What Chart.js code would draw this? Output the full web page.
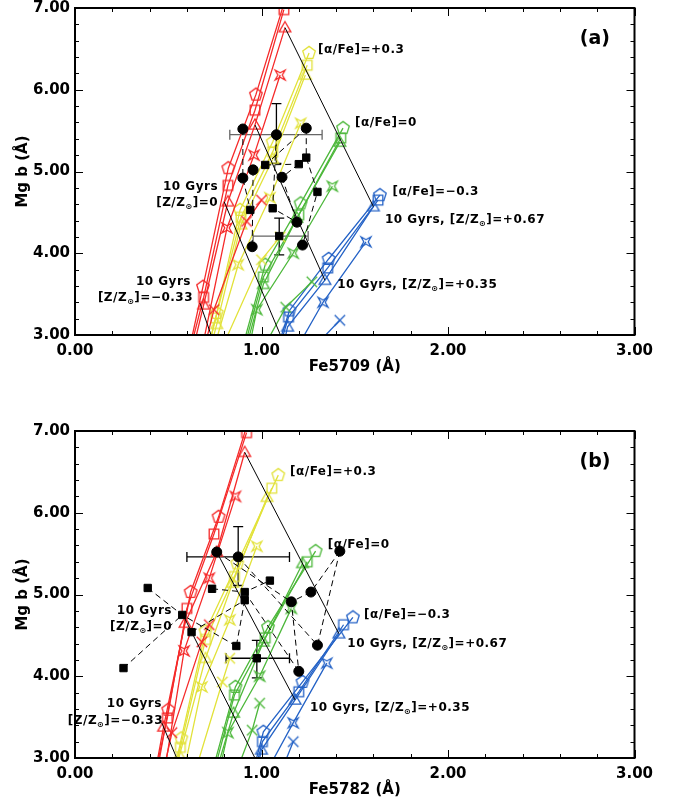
<!DOCTYPE html>
<html><head><meta charset="utf-8">
<script src="https://cdn.jsdelivr.net/npm/chart.js"></script>
<style>
html,body{margin:0;padding:0;background:#fff;width:677px;height:807px;overflow:hidden}
.wrap{position:absolute;left:0;width:677px}
#wa{top:0;height:400px}
#wb{top:400px;height:407px}
canvas{display:block}
</style></head><body>
<div class="wrap" id="wa"><canvas id="ca" width="677" height="400"></canvas></div>
<div class="wrap" id="wb"><canvas id="cb" width="677" height="407"></canvas></div>
<script>
// ---------- axis ticks ----------
const xTickValues = [0, 1, 2, 3];
const yTickValues = [3, 4, 5, 6, 7];

// ---------- panel (a): Mg b vs Fe5709 model grids (points at increasing [Z/H]) ----------
const a_red_pent   = [[0.62,2.90],[0.686,3.59],[0.822,5.04],[0.97,5.94],[1.14,7.20]];
const a_red_sq     = [[0.615,2.80],[0.69,3.46],[0.82,4.83],[0.965,5.75],[1.12,6.98]];
const a_red_tri    = [[0.63,2.80],[0.69,3.37],[0.82,4.63],[0.965,5.57],[1.126,6.76]];
const a_red_star   = [[0.66,2.60],[0.815,4.31],[0.96,5.20],[1.10,6.18]];
const a_red_x      = [[0.70,2.90],[0.745,3.31],[0.92,4.39],[1.00,4.65]];
const a_yel_pent   = [[0.70,2.70],[0.76,3.27],[0.885,4.53],[1.06,5.36],[1.255,6.45]];
const a_yel_sq     = [[0.70,2.70],[0.755,3.21],[0.89,4.44],[1.06,5.24],[1.245,6.30]];
const a_yel_tri    = [[0.71,2.70],[0.76,3.13],[0.89,4.35],[1.06,5.15],[1.235,6.18]];
const a_yel_star   = [[0.74,2.80],[0.875,3.86],[1.045,4.68],[1.21,5.59]];
const a_yel_x      = [[0.78,2.80],[1.00,3.92],[1.10,4.20]];
const a_grn_pent   = [[0.88,2.70],[1.02,3.86],[1.21,4.61],[1.437,5.53]];
const a_grn_sq     = [[0.89,2.70],[1.01,3.71],[1.20,4.47],[1.425,5.41]];
const a_grn_tri    = [[0.90,2.70],[1.01,3.62],[1.19,4.43],[1.42,5.36]];
const a_grn_star   = [[0.93,2.80],[0.975,3.31],[1.17,4.00],[1.38,4.82]];
const a_grn_x      = [[1.00,2.80],[1.13,3.34],[1.27,3.65]];
const a_blu_pent   = [[1.08,2.80],[1.15,3.30],[1.36,3.93],[1.635,4.71]];
const a_blu_sq     = [[1.09,2.80],[1.145,3.22],[1.355,3.82],[1.625,4.65]];
const a_blu_tri    = [[1.11,2.80],[1.14,3.10],[1.34,3.67],[1.60,4.57]];
const a_blu_star   = [[1.18,2.80],[1.33,3.40],[1.56,4.14]];
const a_blu_x      = [[1.26,2.80],[1.42,3.18]];
// 10 Gyr constant-metallicity lines ([Z/Z]=+0.67, +0.35, 0, -0.33)
const a_iso = [[[1.126,6.76],[1.60,4.57]], [[0.965,5.57],[1.34,3.67]], [[0.80,4.63],[1.12,2.90]], [[0.67,3.39],[0.745,2.90]]];
// observed data
const a_circles = [[0.90,5.52],[1.08,5.45],[1.24,5.53],[0.955,5.02],[0.90,4.92],[1.11,4.93],[0.95,4.08],[1.22,4.10],[1.19,4.38]];
const a_squares = [[1.24,5.17],[1.20,5.09],[1.02,5.08],[1.30,4.75],[1.06,4.55],[1.095,4.21],[0.94,4.53]];
const a_links = [
  [[1.24,5.53],[1.02,5.08]],
  [[1.24,5.53],[1.24,5.17],[1.30,4.75],[1.22,4.10]],
  [[1.20,5.09],[1.11,4.93]],
  [[1.02,5.08],[1.20,5.09]],
  [[0.90,5.52],[0.90,4.92],[0.94,4.53]],
  [[0.955,5.02],[0.95,4.08]],
  [[1.11,4.93],[1.19,4.38]],
  [[1.08,5.45],[1.06,4.55],[1.19,4.38]]
];
const a_errorBars = [
  {x:1.08, y:5.45, xlo:0.83, xhi:1.325, ylo:5.10, yhi:5.83},
  {x:1.095, y:4.21, xlo:0.955, xhi:1.25, ylo:3.98, yhi:4.43}
];
const a_labels = [
  ['[α/Fe]=+0.3', 1.303, 6.49, 'left'],
  ['[α/Fe]=0', 1.501, 5.59, 'left'],
  ['[α/Fe]=−0.3', 1.703, 4.75, 'left'],
  ['10 Gyrs, [Z/Z_⊙]=+0.67', 1.662, 4.41, 'left'],
  ['10 Gyrs, [Z/Z_⊙]=+0.35', 1.406, 3.61, 'left'],
  ['10 Gyrs', 0.767, 4.81, 'right'],
  ['[Z/Z_⊙]=0', 0.767, 4.615, 'right'],
  ['10 Gyrs', 0.622, 3.65, 'right'],
  ['[Z/Z_⊙]=−0.33', 0.633, 3.45, 'right']
];

// ---------- panel (b): Mg b vs Fe5782 ----------
const b_red_pent   = [[0.43,2.70],[0.50,3.59],[0.62,5.03],[0.77,5.95],[0.94,7.20]];
const b_red_sq     = [[0.42,2.70],[0.495,3.49],[0.60,4.83],[0.745,5.74],[0.92,6.98]];
const b_red_tri    = [[0.42,2.70],[0.475,3.38],[0.59,4.65],[0.76,5.52],[0.91,6.74]];
const b_red_star   = [[0.47,2.70],[0.585,4.31],[0.72,5.20],[0.86,6.20]];
const b_red_x      = [[0.47,2.80],[0.52,3.31],[0.68,4.42],[0.72,4.63]];
const b_yel_pent   = [[0.52,2.70],[0.57,3.24],[0.70,4.55],[0.87,5.38],[1.09,6.46]];
const b_yel_sq     = [[0.52,2.70],[0.565,3.13],[0.70,4.45],[0.855,5.22],[1.055,6.30]];
const b_yel_tri    = [[0.53,2.70],[0.56,3.03],[0.70,4.22],[0.845,5.14],[1.03,6.19]];
const b_yel_star   = [[0.58,2.80],[0.68,3.87],[0.83,4.69],[0.975,5.59]];
const b_yel_x      = [[0.64,2.80],[0.79,3.93],[0.83,4.22]];
const b_grn_pent   = [[0.72,2.70],[0.86,3.87],[1.035,4.60],[1.29,5.53]];
const b_grn_sq     = [[0.73,2.70],[0.855,3.77],[1.02,4.47],[1.245,5.40]];
const b_grn_tri    = [[0.74,2.70],[0.85,3.55],[1.01,4.42],[1.22,5.38]];
const b_grn_star   = [[0.77,2.80],[0.82,3.31],[0.99,4.00],[1.16,4.83]];
const b_grn_x      = [[0.86,2.80],[0.95,3.34],[0.99,3.67]];
const b_blu_pent   = [[0.94,2.70],[1.01,3.32],[1.22,3.93],[1.49,4.72]];
const b_blu_sq     = [[0.95,2.70],[1.005,3.20],[1.20,3.81],[1.44,4.63]];
const b_blu_tri    = [[0.96,2.70],[1.00,3.10],[1.18,3.71],[1.415,4.52]];
const b_blu_star   = [[1.02,2.80],[1.17,3.43],[1.35,4.16]];
const b_blu_x      = [[1.10,2.80],[1.17,3.20]];
const b_iso = [[[0.91,6.74],[1.415,4.52]], [[0.76,5.52],[1.18,3.71]], [[0.579,4.75],[0.987,2.90]], [[0.465,3.43],[0.564,2.90]]];
const b_circles = [[0.76,5.52],[0.875,5.46],[1.42,5.53],[1.265,5.03],[1.16,4.91],[1.30,4.38],[1.20,4.06]];
const b_squares = [[0.39,5.08],[0.575,4.75],[0.625,4.54],[0.26,4.10],[0.735,5.07],[1.045,5.17],[0.91,5.03],[0.91,4.93],[0.865,4.37],[0.975,4.22]];
const b_links = [
  [[0.39,5.08],[0.575,4.75],[0.865,4.37]],
  [[0.26,4.10],[0.575,4.75]],
  [[0.735,5.07],[0.91,5.03],[1.045,5.17]],
  [[0.625,4.54],[0.91,4.93]],
  [[0.76,5.52],[1.16,4.91]],
  [[0.875,5.46],[1.30,4.38]],
  [[1.42,5.53],[1.265,5.03],[1.16,4.91],[1.20,4.06]],
  [[1.42,5.53],[1.30,4.38]],
  [[0.91,4.93],[0.865,4.37]],
  [[0.91,5.03],[1.20,4.06]]
];
const b_errorBars = [
  {x:0.875, y:5.46, xlo:0.60, xhi:1.15, ylo:5.11, yhi:5.83},
  {x:0.975, y:4.22, xlo:0.81, xhi:1.15, ylo:3.98, yhi:4.44}
];
const b_labels = [
  ['[α/Fe]=+0.3', 1.153, 6.50, 'left'],
  ['[α/Fe]=0', 1.355, 5.61, 'left'],
  ['[α/Fe]=−0.3', 1.55, 4.75, 'left'],
  ['10 Gyrs, [Z/Z_⊙]=+0.67', 1.46, 4.40, 'left'],
  ['10 Gyrs, [Z/Z_⊙]=+0.35', 1.26, 3.61, 'left'],
  ['10 Gyrs', 0.52, 4.80, 'right'],
  ['[Z/Z_⊙]=0', 0.52, 4.60, 'right'],
  ['10 Gyrs', 0.466, 3.66, 'right'],
  ['[Z/Z_⊙]=−0.33', 0.472, 3.45, 'right']
];

// ---------- styling ----------
const COLORS = {red:'#f52a2a', yel:'#e2e23a', grn:'#4db83b', blu:'#2462c6'};
function markerCanvas(shape, color){
  const S = 18, c = document.createElement('canvas'); c.width = S; c.height = S;
  const g = c.getContext('2d'); g.strokeStyle = color; g.lineWidth = 1.3; g.translate(S/2, S/2);
  g.beginPath();
  if (shape === 'pent') {
    const r = 6.6;
    for (let i = 0; i < 5; i++) { const a = -Math.PI/2 + i*2*Math.PI/5; const px = r*Math.cos(a), py = r*Math.sin(a); i ? g.lineTo(px,py) : g.moveTo(px,py); }
    g.closePath();
  } else if (shape === 'sq') {
    g.rect(-4.8, -4.8, 9.6, 9.6);
  } else if (shape === 'tri') {
    const r = 6.8;
    for (let i = 0; i < 3; i++) { const a = -Math.PI/2 + i*2*Math.PI/3; const px = r*Math.cos(a), py = r*Math.sin(a)+0.8; i ? g.lineTo(px,py) : g.moveTo(px,py); }
    g.closePath();
  } else if (shape === 'star') {
    const R = 7, ri = 2.2;
    for (let i = 0; i < 8; i++) { const a = Math.PI/4 + i*Math.PI/4; const r = i%2 ? ri : R; const px = r*Math.cos(a), py = r*Math.sin(a); i ? g.lineTo(px,py) : g.moveTo(px,py); }
    g.closePath();
  } else if (shape === 'x') {
    const r = 5.2; g.moveTo(-r,-r); g.lineTo(r,r); g.moveTo(r,-r); g.lineTo(-r,r);
  }
  g.stroke();
  return c;
}
const MARK = {};
for (const col of Object.keys(COLORS)) { MARK[col] = {}; for (const s of ['pent','sq','tri','star','x']) MARK[col][s] = markerCanvas(s, COLORS[col]); }

const toXY = arr => arr.map(p => ({x: p[0], y: p[1]}));
const LABEL_FONT = 'bold 12px "DejaVu Sans"';
const SUB_FONT = 'bold 8px "DejaVu Sans"';

function drawRich(ctx, text, x, y, align) {
  const parts = text.split('_⊙'); const segs = [];
  parts.forEach((p, i) => { if (p) segs.push({t:p, sub:false}); if (i < parts.length-1) segs.push({t:'⊙', sub:true}); });
  ctx.letterSpacing = '0.5px';
  let w = 0; segs.forEach(s => { ctx.font = s.sub ? SUB_FONT : LABEL_FONT; s.w = ctx.measureText(s.t).width; w += s.w; });
  let cx = align === 'right' ? x - w : x;
  ctx.textAlign = 'left'; ctx.textBaseline = 'middle';
  segs.forEach(s => { ctx.font = s.sub ? SUB_FONT : LABEL_FONT; ctx.fillText(s.t, cx, s.sub ? y + 4 : y); cx += s.w; });
  ctx.letterSpacing = '0px';
}

const panelPlugin = {
  id: 'panelDeco',
  beforeDatasetsDraw(chart) {
    const P = chart.options.plugins.panelDeco; const ctx = chart.ctx;
    const xs = chart.scales.x, ys = chart.scales.y;
    ctx.save();
    P.errorBars.forEach(e => {
      const cx = xs.getPixelForValue(e.x), cy = ys.getPixelForValue(e.y);
      const x0 = xs.getPixelForValue(e.xlo), x1 = xs.getPixelForValue(e.xhi);
      const y0 = ys.getPixelForValue(e.ylo), y1 = ys.getPixelForValue(e.yhi);
      ctx.lineWidth = 1.3;
      ctx.strokeStyle = P.hbarColor;
      ctx.beginPath(); ctx.moveTo(x0, cy); ctx.lineTo(x1, cy);
      ctx.moveTo(x0, cy-5); ctx.lineTo(x0, cy+5); ctx.moveTo(x1, cy-5); ctx.lineTo(x1, cy+5); ctx.stroke();
      ctx.strokeStyle = '#000';
      ctx.beginPath(); ctx.moveTo(cx, y0); ctx.lineTo(cx, y1);
      ctx.moveTo(cx-5, y0); ctx.lineTo(cx+5, y0); ctx.moveTo(cx-5, y1); ctx.lineTo(cx+5, y1); ctx.stroke();
    });
    ctx.restore();
  },
  afterDraw(chart) {
    const P = chart.options.plugins.panelDeco; const ctx = chart.ctx;
    const a = chart.chartArea, xs = chart.scales.x, ys = chart.scales.y;
    ctx.save();
    ctx.strokeStyle = '#000'; ctx.lineWidth = 2;
    ctx.strokeRect(a.left, a.top, a.right - a.left, a.bottom - a.top);
    ctx.lineWidth = 1;
    ctx.beginPath();
    for (let i = 0; i <= 15; i++) {
      const px = Math.round(xs.getPixelForValue(xTickValues[0] + i*0.2)) + 0.5; const L = i % 5 === 0 ? 8 : 4;
      ctx.moveTo(px, a.bottom); ctx.lineTo(px, a.bottom - L);
      ctx.moveTo(px, a.top); ctx.lineTo(px, a.top + L);
    }
    for (let i = 0; i <= 20; i++) {
      const py = Math.round(ys.getPixelForValue(yTickValues[0] + i*0.2)) + 0.5; const L = i % 5 === 0 ? 8 : 4;
      ctx.moveTo(a.left, py); ctx.lineTo(a.left + L, py);
      ctx.moveTo(a.right, py); ctx.lineTo(a.right - L, py);
    }
    ctx.stroke();
    ctx.fillStyle = '#000';
    P.labels.forEach(l => drawRich(ctx, l[0], xs.getPixelForValue(l[1]), ys.getPixelForValue(l[2]), l[3]));
    ctx.font = 'bold 19px "DejaVu Sans"'; ctx.textAlign = 'center'; ctx.textBaseline = 'middle';
    ctx.fillText(P.tag, xs.getPixelForValue(2.788), ys.getPixelForValue(6.62));
    ctx.font = 'bold 15px "DejaVu Sans"';
    ctx.fillText(P.xTitle, (a.left + a.right)/2, a.bottom + 32);
    ctx.translate(23, (a.top + a.bottom)/2); ctx.rotate(-Math.PI/2);
    ctx.fillText('Mg b (Å)', 0, 0);
    ctx.restore();
  }
};

function buildPanel(id, P) {
  const ds = [];
  ds.push({data: toXY(P.circles), pointStyle: 'circle', pointRadius: 5, backgroundColor: '#000', borderColor: '#000', borderWidth: 1, showLine: false, order: 0});
  ds.push({data: toXY(P.squares), pointStyle: 'rect', pointRadius: 5.2, backgroundColor: '#000', borderColor: '#000', borderWidth: 1, showLine: false, order: 0});
  P.links.forEach(l => ds.push({data: toXY(l), showLine: true, borderColor: '#000', borderWidth: 1, borderDash: [6,4], pointRadius: 0, order: 1}));
  P.iso.forEach(l => ds.push({data: toXY(l), showLine: true, borderColor: '#000', borderWidth: 1, pointRadius: 0, order: 2}));
  P.grid.forEach(([arr, col, shape]) => ds.push({data: toXY(arr), showLine: true, borderColor: COLORS[col], borderWidth: 1.3, pointStyle: MARK[col][shape], pointRadius: 6, order: 3}));
  const tickFont = {family: 'DejaVu Sans', weight: 'bold', size: 15};
  return new Chart(document.getElementById(id), {
    type: 'scatter',
    data: {datasets: ds},
    options: {
      responsive: false, animation: false, devicePixelRatio: 1, events: [],
      layout: {padding: {top: P.padTop, right: 42.5, left: 0, bottom: 0}},
      plugins: {legend: {display: false}, tooltip: {enabled: false},
        panelDeco: {errorBars: P.errorBars, labels: P.labels, tag: P.tag, xTitle: P.xTitle, hbarColor: P.hbarColor}},
      scales: {
        x: {type: 'linear', min: 0, max: 3, grid: {display: false, drawTicks: false}, border: {display: false},
            ticks: {font: tickFont, color: '#000', padding: 7, maxRotation: 0, autoSkip: false, callback: v => Number(v).toFixed(2)},
            afterBuildTicks: s => { s.ticks = xTickValues.map(v => ({value: v})); },
            afterFit: s => { s.height = P.xAxisH; s.paddingLeft = 0; s.paddingRight = 0; }},
        y: {type: 'linear', min: 3, max: 7, grid: {display: false, drawTicks: false}, border: {display: false},
            ticks: {font: tickFont, color: '#000', padding: 5, autoSkip: false, callback: v => Number(v).toFixed(2)},
            afterBuildTicks: s => { s.ticks = yTickValues.map(v => ({value: v})); },
            afterFit: s => { s.width = 75; s.paddingTop = 0; s.paddingBottom = 0; }}
      }
    },
    plugins: [panelPlugin]
  });
}

buildPanel('ca', {
  padTop: 8, xAxisH: 65, tag: '(a)', xTitle: 'Fe5709 (Å)', hbarColor: '#666',
  circles: a_circles, squares: a_squares, links: a_links, iso: a_iso, errorBars: a_errorBars, labels: a_labels,
  grid: [
    [a_red_pent,'red','pent'],[a_red_sq,'red','sq'],[a_red_tri,'red','tri'],[a_red_star,'red','star'],[a_red_x,'red','x'],
    [a_yel_pent,'yel','pent'],[a_yel_sq,'yel','sq'],[a_yel_tri,'yel','tri'],[a_yel_star,'yel','star'],[a_yel_x,'yel','x'],
    [a_grn_pent,'grn','pent'],[a_grn_sq,'grn','sq'],[a_grn_tri,'grn','tri'],[a_grn_star,'grn','star'],[a_grn_x,'grn','x'],
    [a_blu_pent,'blu','pent'],[a_blu_sq,'blu','sq'],[a_blu_tri,'blu','tri'],[a_blu_star,'blu','star'],[a_blu_x,'blu','x']
  ]
});
buildPanel('cb', {
  padTop: 31, xAxisH: 49, tag: '(b)', xTitle: 'Fe5782 (Å)', hbarColor: '#000',
  circles: b_circles, squares: b_squares, links: b_links, iso: b_iso, errorBars: b_errorBars, labels: b_labels,
  grid: [
    [b_red_pent,'red','pent'],[b_red_sq,'red','sq'],[b_red_tri,'red','tri'],[b_red_star,'red','star'],[b_red_x,'red','x'],
    [b_yel_pent,'yel','pent'],[b_yel_sq,'yel','sq'],[b_yel_tri,'yel','tri'],[b_yel_star,'yel','star'],[b_yel_x,'yel','x'],
    [b_grn_pent,'grn','pent'],[b_grn_sq,'grn','sq'],[b_grn_tri,'grn','tri'],[b_grn_star,'grn','star'],[b_grn_x,'grn','x'],
    [b_blu_pent,'blu','pent'],[b_blu_sq,'blu','sq'],[b_blu_tri,'blu','tri'],[b_blu_star,'blu','star'],[b_blu_x,'blu','x']
  ]
});
</script>
</body></html>
